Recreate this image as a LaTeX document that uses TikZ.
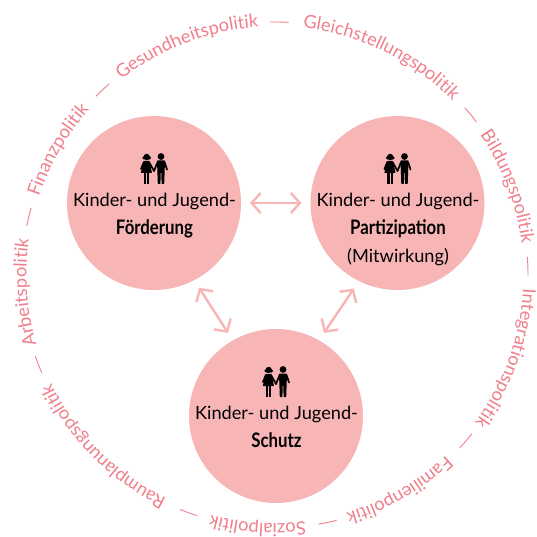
\documentclass[tikz,border=0pt]{standalone}
\usepackage{fontspec}
\setmainfont{Lato}
\newfontfamily\fatfont[FakeStretch=0.84]{Lato}
\usetikzlibrary{arrows.meta, decorations.text}

\definecolor{kreisrosa}{HTML}{F7B5B6}
\definecolor{ringrosa}{HTML}{EF7F8B}

\newcommand{\ringwort}[2]{
    \path [decorate, decoration={text along path, text align=center,
            text={|\fontsize{18.2}{18}\selectfont\color{ringrosa}|#2}}]
        (#1+45:248.5) arc [start angle=#1+45, end angle=#1-45, radius=248.5];
}

\begin{document}
\begin{tikzpicture}
    [
        x=1pt, y=1pt,
        kreis/.style = {
                circle,
                fill=kreisrosa,
                minimum size=174pt,
                inner sep=0pt,
                outer sep=9pt
            },
        kreistext/.style = {
                anchor=north,
                align=center,
                inner sep=0pt,
                font=\fontsize{18.2}{28.3}\selectfont
            },
        doppelpfeil/.style = {
                draw=kreisrosa,
                line width=2.4pt,
                {Straight Barb[length=9pt,width=20pt]}-{Straight Barb[length=9pt,width=20pt]}
            },
        trennstrich/.style = {
                draw=ringrosa,
                line width=0.9pt
            },
        kinder/.pic = {
                \fill (-7.3,11.5) circle (3.2);
                \fill (-10,10.6) circle (1.8);
                \fill (-4.6,10.6) circle (1.8);
                \fill [rounded corners=0.5pt] (-10.2,7.5) -- (-4.6,7.5) -- (-2,-4.5) -- (-13.2,-4.5) -- cycle;
                \fill (-10.2,-4) rectangle (-8,-15.5);
                \fill (-6.8,-4) rectangle (-4.6,-15.5);
                \draw [line width=1.7pt, line cap=round] (-10.2,6.5) -- (-13,-0.5);
                \draw [line width=1.7pt, line cap=round] (-5,6.5) -- (0,-2.5);
                \fill (7,12) circle (3.4);
                \fill [rounded corners=0.5pt] (3,8) -- (11,8) -- (10.6,-4) -- (10.2,-15.5) -- (7.6,-15.5) -- (7.3,-4) -- (6.7,-4) -- (6.4,-15.5) -- (3.8,-15.5) -- (3.4,-4) -- cycle;
                \draw [line width=1.7pt, line cap=round] (3.6,6.5) -- (0,-2.5);
                \draw [line width=1.7pt, line cap=round] (10.6,6.5) -- (13,-1);
            },
    ]

    \useasboundingbox (0,0) rectangle (537,536);

    \node [kreis] (foerderung) at (154,333) {};
    \node [kreis] (partizipation) at (397.5,333) {};
    \node [kreis] (schutz) at (276,120) {};

    \pic at ([yshift=34.5pt]foerderung.center) {kinder};
    \pic at ([yshift=34.5pt]partizipation.center) {kinder};
    \pic at ([yshift=34.5pt]schutz.center) {kinder};

    \node [kreistext] (foerderungtext) at ([xshift=0.5pt,yshift=10.5pt]foerderung.center) {Kinder- und Jugend-\\{\fontsize{20}{28.3}\selectfont\fatfont\bfseries Förderung}};
    \node [kreistext] (partizipationtext) at ([xshift=0.5pt,yshift=10.5pt]partizipation.center) {Kinder- und Jugend-\\{\fontsize{20}{28.3}\selectfont\fatfont\bfseries Partizipation}\\(Mitwirkung)};
    \node [kreistext] (schutztext) at ([xshift=0.5pt,yshift=10.5pt]schutz.center) {Kinder- und Jugend-\\{\fontsize{20}{28.3}\selectfont\fatfont\bfseries Schutz}};

    \draw [doppelpfeil] (foerderung.east) -- (partizipation.west);
    \draw [doppelpfeil] (foerderung.-62) -- (schutz.120);
    \draw [doppelpfeil] (partizipation.-117.5) -- (schutz.60);

    \begin{scope}[shift={(275,261)}]
        \ringwort{111}{Gesundheitspolitik}
        \ringwort{64}{Gleichstellungspolitik}
        \ringwort{20.8}{Bildungspolitik}
        \ringwort{-19.8}{Integrationspolitik}
        \ringwort{-60}{Familienpolitik}
        \ringwort{-94}{Sozialpolitik}
        \ringwort{-135}{Raumplanungspolitik}
        \ringwort{184}{Arbeitspolitik}
        \ringwort{150}{Finanzpolitik}

        \foreach \winkel in {89, 39.3, 2, -41, -78, -110, 200.7, 166.7, 133} {
            \draw [trennstrich] (\winkel+2.1:253) arc [start angle=\winkel+2.1, end angle=\winkel-2.1, radius=253];
        }
    \end{scope}
\end{tikzpicture}
\end{document}
